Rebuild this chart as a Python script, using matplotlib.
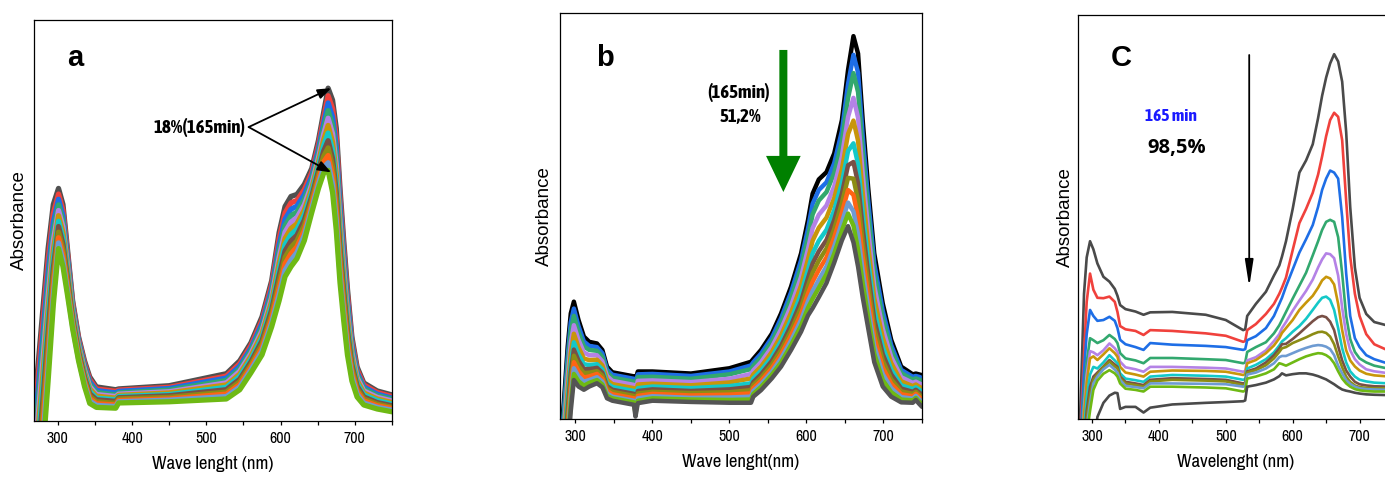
import numpy as np
import matplotlib
matplotlib.use('Agg')
import matplotlib.pyplot as plt
from matplotlib.patches import FancyArrow
from matplotlib.ticker import MultipleLocator

# ---------------------------------------------------------------- data
xticks = [300, 400, 500, 600, 700]
xtick_labels = ['300', '400', '500', '600', '700']

# Panel a: rows = wavelength, columns = 12 successive spectra (0 .. 165 min)
wl_a = [268, 274, 280, 287, 294, 301, 307, 313, 320, 328, 336, 343, 352, 378, 382,
        450, 527, 531, 545, 560, 575, 588, 598, 606, 614, 622, 632, 642, 651, 658,
        664, 670, 675, 680, 685, 690, 696, 703, 712, 730, 750]
spectra_a = [
    [3, 0, -3, -6, -9, -12, -15, -18, -21, -24, -27, -30],
    [15, 11.8, 8.6, 5.4, 2.2, -1, -4.2, -7.4, -10.6, -13.8, -17, -20],
    [28, 24.7, 21.5, 18.2, 14.9, 11.6, 8.4, 5.1, 1.8, -1.4, -4.7, -8],
    [43, 40, 37, 34, 31, 28, 25, 22, 19, 16, 13, 10],
    [54, 51.7, 49.5, 47.2, 44.9, 42.6, 40.4, 38.1, 35.8, 33.5, 31.3, 29],
    [58, 56.6, 55.3, 53.9, 52.5, 51.2, 49.8, 48.5, 47.1, 45.7, 44.4, 43],
    [54, 52.6, 51.2, 49.8, 48.4, 47, 45.5, 44.1, 42.7, 41.3, 39.9, 38.5],
    [43, 42, 40.9, 39.9, 38.8, 37.8, 36.7, 35.7, 34.6, 33.6, 32.5, 31.5],
    [30, 29.4, 28.7, 28.1, 27.5, 26.8, 26.2, 25.5, 24.9, 24.3, 23.6, 23],
    [21, 20.5, 19.9, 19.4, 18.8, 18.3, 17.7, 17.2, 16.6, 16.1, 15.5, 15],
    [15, 14.4, 13.8, 13.3, 12.7, 12.1, 11.5, 10.9, 10.3, 9.8, 9.2, 8.6],
    [11, 10.4, 9.8, 9.2, 8.6, 8, 7.4, 6.8, 6.2, 5.6, 5, 4.4],
    [8.5, 8, 7.6, 7.1, 6.6, 6.2, 5.7, 5.3, 4.8, 4.3, 3.9, 3.4],
    [7.8, 7.4, 7, 6.5, 6.1, 5.7, 5.3, 4.9, 4.4, 4, 3.6, 3.2],
    [8, 7.7, 7.4, 7, 6.7, 6.4, 6.1, 5.8, 5.5, 5.1, 4.8, 4.5],
    [8.8, 8.4, 8.1, 7.7, 7.3, 7, 6.6, 6.3, 5.9, 5.5, 5.2, 4.8],
    [11.8, 11.2, 10.7, 10.1, 9.5, 9, 8.4, 7.8, 7.2, 6.7, 6.1, 5.5],
    [12.5, 11.9, 11.3, 10.7, 10.1, 9.5, 9, 8.4, 7.8, 7.2, 6.6, 6],
    [15, 14.3, 13.7, 13, 12.4, 11.7, 11.1, 10.4, 9.8, 9.1, 8.5, 7.8],
    [19.5, 18.8, 18.1, 17.5, 16.8, 16.1, 15.4, 14.7, 14, 13.4, 12.7, 12],
    [26, 25.1, 24.3, 23.4, 22.5, 21.7, 20.8, 20, 19.1, 18.2, 17.4, 16.5],
    [35, 34, 32.9, 31.9, 30.8, 29.8, 28.7, 27.7, 26.6, 25.6, 24.5, 23.5],
    [47, 45.5, 43.9, 42.4, 40.8, 39.3, 37.7, 36.2, 34.6, 33.1, 31.5, 30],
    [53.5, 51.9, 50.3, 48.7, 47.1, 45.5, 44, 42.4, 40.8, 39.2, 37.6, 36],
    [56, 54.4, 52.8, 51.2, 49.6, 48, 46.5, 44.9, 43.3, 41.7, 40.1, 38.5],
    [56.5, 55, 53.6, 52.1, 50.7, 49.2, 47.8, 46.3, 44.9, 43.4, 42, 40.5],
    [59, 57.7, 56.5, 55.2, 53.9, 52.6, 51.4, 50.1, 48.8, 47.5, 46.3, 45],
    [63, 62, 61, 60, 59, 58, 57, 56, 55, 54, 53, 52],
    [70, 68.9, 67.8, 66.7, 65.6, 64.5, 63.5, 62.4, 61.3, 60.2, 59.1, 58],
    [77, 75.6, 74.2, 72.9, 71.5, 70.1, 68.7, 67.3, 66, 64.6, 63.2, 61.8],
    [83, 81.1, 79.3, 77.4, 75.5, 73.7, 71.8, 69.9, 68.1, 66.2, 64.4, 62.5],
    [80, 77.9, 75.8, 73.7, 71.6, 69.5, 67.5, 65.4, 63.3, 61.2, 59.1, 57],
    [73, 70.7, 68.4, 66, 63.7, 61.4, 59.1, 56.8, 54.5, 52.1, 49.8, 47.5],
    [58, 55.9, 53.7, 51.6, 49.5, 47.3, 45.2, 43, 40.9, 38.8, 36.6, 34.5],
    [45, 43.2, 41.4, 39.5, 37.7, 35.9, 34.1, 32.3, 30.5, 28.6, 26.8, 25],
    [33, 31.5, 30, 28.5, 27, 25.5, 24, 22.5, 21, 19.5, 18, 16.5],
    [21, 20, 19, 18, 17, 16, 15, 14, 13, 12, 11, 10],
    [13.5, 12.8, 12.1, 11.5, 10.8, 10.1, 9.4, 8.7, 8, 7.4, 6.7, 6],
    [9.5, 9, 8.5, 8, 7.5, 7, 6.5, 6, 5.5, 5, 4.5, 4],
    [7.5, 7.1, 6.7, 6.3, 5.9, 5.5, 5.1, 4.6, 4.2, 3.8, 3.4, 3],
    [6.5, 6.1, 5.7, 5.4, 5, 4.6, 4.2, 3.8, 3.4, 3.1, 2.7, 2.3],
]
colors_a = ['#505050', '#f0413c', '#1e6ee6', '#32a86e', '#b482e6', '#c8960a',
            '#14c8c8', '#785046', '#8c8c14', '#ff6414', '#6e9bd2', '#6eb914']

# Panel b: rows = wavelength, columns = 12 successive spectra
wl_b = [281, 285, 290, 294, 298, 304, 311, 318, 328, 335, 341, 348, 376, 378, 381,
        400, 450, 500, 528, 531, 541, 555, 567, 580, 593, 602, 608, 616, 626, 636,
        646, 654, 661, 667, 673, 680, 688, 699, 710, 723, 738, 742, 746, 750]
spectra_b = [
    [-5, -7.3, -9.5, -12.5, -15.3, -18, -20.3, -22.3, -24.3, -26.3, -28, -30],
    [4, 1.8, -0.3, -3.2, -5.8, -8.5, -10.6, -12.6, -14.5, -16.4, -18.1, -20],
    [17.8, 15.5, 13.2, 10.1, 7.2, 4.4, 2.1, 0, -2.1, -4.1, -5.9, -8],
    [26, 23.8, 21.7, 18.8, 16.2, 13.5, 11.4, 9.4, 7.5, 5.6, 3.9, 2],
    [28.9, 27.2, 25.4, 23.1, 21, 18.9, 17.1, 15.6, 14, 12.5, 11.1, 9.6],
    [24.4, 22.9, 21.4, 19.5, 17.7, 15.9, 14.4, 13.1, 11.8, 10.5, 9.3, 8],
    [20.3, 19.1, 17.9, 16.4, 14.9, 13.5, 12.3, 11.3, 10.2, 9.2, 8.2, 7.2],
    [19, 18, 17, 15.7, 14.5, 13.3, 12.3, 11.4, 10.5, 9.6, 8.9, 8],
    [18.6, 17.7, 16.8, 15.7, 14.6, 13.5, 12.6, 11.8, 11.1, 10.3, 9.6, 8.8],
    [17, 16.2, 15.3, 14.2, 13.2, 12.2, 11.4, 10.7, 9.9, 9.2, 8.5, 7.8],
    [12.9, 12.2, 11.5, 10.6, 9.7, 8.8, 8.1, 7.5, 6.9, 6.3, 5.7, 5.1],
    [11.5, 10.9, 10.2, 9.4, 8.6, 7.9, 7.2, 6.7, 6.1, 5.5, 5.1, 4.5],
    [10.5, 9.9, 9.2, 8.4, 7.6, 6.9, 6.2, 5.7, 5.1, 4.5, 4.1, 3.5],
    [9.6, 8.8, 8, 6.9, 5.9, 4.9, 4.1, 3.4, 2.7, 1.9, 1.3, 0.6],
    [11.7, 11, 10.3, 9.4, 8.5, 7.6, 6.9, 6.3, 5.7, 5.1, 4.5, 3.9],
    [11.7, 11.1, 10.4, 9.5, 8.7, 8, 7.3, 6.7, 6.2, 5.6, 5.1, 4.5],
    [11.2, 10.6, 9.9, 9.1, 8.3, 7.6, 6.9, 6.4, 5.8, 5.2, 4.8, 4.2],
    [12.5, 11.7, 11, 9.9, 9, 8.1, 7.3, 6.6, 6, 5.3, 4.7, 4],
    [14.1, 13.2, 12.3, 11.1, 10, 8.8, 7.9, 7.1, 6.3, 5.5, 4.8, 4],
    [14.8, 14, 13.1, 12, 11, 10, 9.1, 8.4, 7.6, 6.9, 6.2, 5.5],
    [17, 16.1, 15.2, 14, 12.9, 11.9, 11, 10.2, 9.4, 8.6, 7.9, 7.1],
    [21, 20, 19, 17.7, 16.5, 15.3, 14.3, 13.4, 12.5, 11.6, 10.9, 10],
    [26, 24.8, 23.6, 22.1, 20.6, 19.2, 18, 17, 15.9, 14.9, 13.9, 12.9],
    [32.6, 31.2, 29.8, 27.9, 26.2, 24.5, 23.1, 21.8, 20.6, 19.3, 18.2, 17],
    [40.8, 39.1, 37.3, 35, 32.9, 30.8, 29, 27.5, 25.9, 24.4, 23, 21.5],
    [49, 46.9, 44.8, 41.9, 39.4, 36.8, 34.7, 32.8, 30.9, 29, 27.4, 25.5],
    [55.5, 53, 50.4, 47, 43.9, 40.8, 38.3, 36, 33.8, 31.5, 29.6, 27.3],
    [59, 56.4, 53.8, 50.3, 47.1, 43.9, 41.3, 39, 36.7, 34.3, 32.3, 30],
    [60.8, 58.3, 55.9, 52.6, 49.6, 46.6, 44.1, 42, 39.8, 37.6, 35.7, 33.5],
    [65.4, 63, 60.6, 57.3, 54.4, 51.4, 49, 46.8, 44.7, 42.5, 40.7, 38.5],
    [73.6, 70.9, 68.3, 64.7, 61.5, 58.2, 55.5, 53.2, 50.8, 48.4, 46.4, 44],
    [86, 82.5, 79.1, 74.4, 70.2, 66, 62.5, 59.4, 56.4, 53.3, 50.6, 47.5],
    [94.3, 89.7, 85.2, 79.1, 73.5, 67.9, 63.3, 59.2, 55.2, 51.1, 47.6, 43.5],
    [90, 85.3, 80.5, 74.2, 68.5, 62.7, 58, 53.8, 49.6, 45.4, 41.7, 37.5],
    [73.6, 69.7, 65.8, 60.5, 55.7, 50.9, 47, 43.5, 40, 36.5, 33.5, 30],
    [57.2, 54.1, 51, 46.8, 43, 39.2, 36, 33.3, 30.5, 27.7, 25.3, 22.5],
    [40.8, 38.4, 36, 32.8, 29.8, 26.9, 24.5, 22.3, 20.2, 18, 16.1, 14],
    [28.5, 26.7, 24.8, 22.3, 20.1, 17.8, 16, 14.4, 12.7, 11.1, 9.6, 8],
    [19.5, 18.2, 17, 15.3, 13.8, 12.2, 11, 9.8, 8.7, 7.6, 6.6, 5.5],
    [12.9, 12.1, 11.3, 10.3, 9.3, 8.3, 7.5, 6.8, 6.1, 5.4, 4.8, 4.1],
    [11, 10.4, 9.7, 8.9, 8.1, 7.4, 6.7, 6.2, 5.6, 5, 4.6, 4],
    [11.2, 10.6, 10, 9.2, 8.5, 7.8, 7.2, 6.7, 6.2, 5.7, 5.2, 4.7],
    [11, 10.4, 9.7, 8.8, 8, 7.3, 6.6, 6, 5.5, 4.9, 4.4, 3.8],
    [10.8, 10.1, 9.4, 8.5, 7.6, 6.7, 6, 5.4, 4.8, 4.2, 3.6, 3],
]
colors_b = ['#000000', '#1e6ee6', '#32a86e', '#b482e6', '#c8960a', '#14c8c8',
            '#785046', '#8c8c14', '#ff6414', '#6e9bd2', '#6eb914', '#555555']

# Panel c: one list per spectrum
wl_c = [280, 284, 288, 292, 297, 302, 308, 317, 326, 334, 338, 342, 350, 365, 377,
        387, 420, 470, 500, 526, 529, 532, 545, 560, 572, 580, 584, 590, 600, 610,
        620, 630, 638, 644, 650, 656, 662, 668, 674, 680, 686, 693, 700, 710, 722, 745]
c_gray0 = [-10, 10, 31, 40, 44, 42, 38.5, 35.2, 34, 32.2, 30.5, 28.2, 27.2, 26.6, 25.8,
           26.4, 26.5, 25.8, 24.5, 22, 22.2, 25.5, 28.5, 31.5, 35.5, 38, 40.2, 44, 52, 61,
           64, 68, 74.5, 80, 84.5, 88, 90.3, 88.5, 83.5, 71, 52.5, 37.5, 30, 26, 24, 23]
c_red = [-15, 2, 16, 29, 36, 32, 30, 29.9, 30.3, 29, 26.5, 23, 22.2, 21.8, 20.8,
         22, 21.8, 21.2, 20.6, 19.1, 19.3, 22, 23.5, 26, 28.5, 31, 32.5, 35, 41.8, 48.5,
         52, 56, 60.5, 65, 70, 74, 75.8, 74.8, 69, 54, 40.2, 31, 25.5, 21, 18.5, 16.8]
c_blue = [-20, -2, 12, 21, 27, 25.5, 24.3, 24.5, 25.3, 24.3, 22.5, 19.6, 18.5, 17.8, 17.1,
          18.8, 18.4, 18.1, 17.8, 17.1, 17.3, 19.5, 20.5, 22.5, 25.5, 28.5, 30, 32.8, 37, 41.2,
          44.5, 48, 52.5, 56.7, 59.5, 61.5, 61, 59.5, 50, 36, 25.5, 20, 17.8, 15.8, 14.8, 13.6]
c_green = [-25, -6, 6, 14, 20, 19.5, 18.8, 19.5, 20.8, 19.8, 18.8, 16.3, 15, 14.5, 13.8,
           15.1, 15.1, 14.8, 14.6, 13.8, 14, 16.6, 17.8, 19, 21.2, 23.2, 24.5, 26.5, 29.8, 33,
           36.2, 40.5, 44, 46.8, 48.8, 49.3, 48.8, 45, 36, 25.5, 19.8, 16.6, 15, 14, 13.2, 12.4]
c_purple = [-28, -10, 3, 11, 16.8, 16.5, 15.8, 17, 18.7, 17.5, 16.6, 14.2, 12.8, 12.3, 11.7,
            12.9, 12.9, 12.7, 12.5, 11.7, 11.9, 14.5, 15.3, 17, 19.3, 21, 22.5, 24, 26.8, 29.3,
            31.7, 34.5, 37.5, 39.5, 41, 40.8, 39.8, 35.5, 27.5, 21, 17, 14.8, 13.5, 12.3, 11.8, 11.3]
c_gold = [-30, -12, 1, 9, 15, 15.5, 14.6, 16, 17.5, 16.3, 15.4, 12.9, 11.5, 11, 10.5,
          11.7, 12, 11.9, 11.7, 10.9, 11.1, 13.8, 14.6, 16.3, 18.2, 20, 21.3, 22.5, 24.5, 27,
          28.8, 30.5, 32.5, 34.3, 35.2, 34.8, 33.3, 28.5, 22, 17, 14.5, 13, 12, 11.2, 10.8, 10.5]
c_cyan = [-32, -15, -3, 5, 11, 12.9, 12.5, 14, 15.8, 14.5, 13.8, 11.3, 10, 9.6, 9.2,
          10.5, 10.9, 10.7, 10.5, 9.7, 9.9, 12.5, 13.4, 14.8, 16.5, 18.2, 19.2, 20, 21.6, 23,
          24.8, 27, 28.8, 30, 30.3, 29.5, 27, 22.5, 17.5, 14, 11.8, 10.5, 9.7, 9.3, 9, 8.8]
c_brown = [-34, -18, -6, 2, 8, 10.5, 11.5, 13, 14.6, 13.5, 12.9, 10.5, 9.2, 8.8, 8.4,
           9.7, 10.1, 9.9, 9.7, 8.8, 9, 11.8, 12.5, 14, 15.8, 17.5, 18.5, 18.6, 19.8, 21.2,
           22.7, 24.2, 25.2, 25.5, 25.2, 24.1, 22, 18, 14.5, 12, 10.5, 9.2, 8.6, 8.3, 8.1, 8]
c_olive = [-36, -20, -8, 0, 6, 9.7, 11, 12.8, 14.2, 13, 12.5, 10.1, 8.8, 8.4, 8,
           9.3, 9.7, 9.5, 9.3, 8.4, 8.6, 11.5, 12.1, 13.3, 15, 16.6, 17.5, 17.8, 18.8, 19.5,
           20.2, 21, 21.5, 21.6, 21.3, 20.4, 18.5, 15.5, 12.8, 10.5, 9.2, 8.3, 7.9, 7.7, 7.6, 7.6]
c_steel = [-38, -22, -10, -2, 4, 8.8, 10.5, 12.3, 13.4, 12.2, 11.5, 9.7, 8.2, 7.9, 7.6,
           8.8, 8.8, 8.7, 8.6, 8, 8.2, 11, 11.5, 12.5, 13.8, 15.3, 15.6, 15.6, 16.3, 17,
           17.6, 18.1, 18.3, 18.2, 17.9, 17.3, 15.8, 13.2, 11.3, 9.6, 8.7, 8, 7.6, 7.4, 7.3, 7.2]
c_lime = [-40, -25, -13, -4, 2, 7.2, 9.5, 11.2, 12.1, 11.3, 10.5, 8.8, 7.5, 7.2, 6.8,
          8, 8, 7.8, 7.6, 6.8, 7, 10, 10.5, 11.3, 12.3, 13.8, 13.6, 13.2, 14, 14.8,
          15.5, 16, 16.3, 16.2, 15.8, 15.1, 13.8, 11.8, 10, 8.8, 8, 7.4, 7.1, 6.9, 6.8, 6.8]
c_gray1 = [-60, -50, -40, -30, -20, -8, 0.5, 4, 5.8, 6.5, 6.4, 2.5, 3, 3, 1.6,
           2.8, 3.6, 4, 4.2, 4.4, 4.6, 8, 8.4, 9, 9.8, 10.6, 11.3, 10.8, 11.1, 11.3,
           11.3, 11, 10.6, 10.2, 9.8, 9.2, 8.6, 7.9, 7.3, 7, 6.8, 6.5, 6.3, 6.1, 6, 5.9]
spectra_c = [c_gray0, c_red, c_blue, c_green, c_purple, c_gold, c_cyan, c_brown,
             c_olive, c_steel, c_lime, c_gray1]
colors_c = ['#4a4a4a', '#f0413c', '#1e6ee6', '#32a86e', '#b482e6', '#c8960a',
            '#14c8c8', '#785046', '#8c8c14', '#6e9bd2', '#6eb914', '#4a4a4a']

# ---------------------------------------------------------------- style
NARROW = ['Archivo Narrow', 'Roboto Condensed', 'DejaVu Sans']
NARROW_BOLD = ['Asap Condensed', 'Archivo Narrow', 'DejaVu Sans']
ARIAL = ['Liberation Sans', 'DejaVu Sans']

W, H = 1385, 482
fig = plt.figure(figsize=(W / 100, H / 100), dpi=100)


def px_box(left, top, right, bottom):
    return [left / W, 1 - bottom / H, (right - left) / W, (bottom - top) / H]


def style(ax, xlim, xlabel, ylab_x):
    ax.set_xlim(*xlim)
    ax.set_ylim(0, 100)
    ax.set_yticks([])
    ax.set_xticks(xticks)
    ax.set_xticklabels(xtick_labels, fontfamily=NARROW, fontsize=11.5)
    ax.xaxis.set_minor_locator(MultipleLocator(50))
    ax.tick_params(axis='x', which='both', direction='out', length=3,
                   width=0.9, pad=4.5, top=False)
    ax.set_xlabel(xlabel, fontsize=13.5, family=NARROW, labelpad=7)
    ax.set_ylabel('Absorbance', fontsize=13.5, family=ARIAL)
    ax.yaxis.set_label_coords(ylab_x, 0.5)
    for s in ax.spines.values():
        s.set_linewidth(0.9)


ax_a = fig.add_axes(px_box(34, 20, 392, 421))
ax_b = fig.add_axes(px_box(560, 13, 922, 419))
ax_c = fig.add_axes(px_box(1078, 15, 1393, 419))

# ---- panel a
arr_a = np.array(spectra_a)
for i, col in enumerate(colors_a):
    ax_a.plot(wl_a, arr_a[:, i], color=col, lw=3.8, solid_joinstyle='round',
              solid_capstyle='round')
style(ax_a, (268, 750), 'Wave lenght (nm)', -0.017)
ax_a.text(0.115, 0.905, 'a', transform=ax_a.transAxes, fontsize=21,
          fontweight='bold', family=ARIAL, ha='center', va='center')
ax_a.text(553, 73.3, '18%(165min)', fontsize=13.5, fontweight='bold',
          family=NARROW_BOLD, ha='right', va='center')
for tip in [(668, 83), (668, 62)]:
    ax_a.annotate('', xy=tip, xytext=(557, 73.3),
                  arrowprops=dict(arrowstyle='-|>,head_length=0.8,head_width=0.3',
                                  color='black', lw=1.3, shrinkA=0, shrinkB=0))

# ---- panel b
arr_b = np.array(spectra_b)
for i, col in enumerate(colors_b):
    ax_b.plot(wl_b, arr_b[:, i], color=col, lw=3.2, solid_joinstyle='round',
              solid_capstyle='round')
style(ax_b, (280, 750), 'Wave lenght(nm)', -0.019)
ax_b.text(0.124, 0.889, 'b', transform=ax_b.transAxes, fontsize=21,
          fontweight='bold', family=ARIAL, ha='center', va='center')
ax_b.text(512, 80.5, '(165min)', fontsize=13.5, fontweight='bold',
          family=NARROW_BOLD, ha='center', va='center')
ax_b.text(514, 74.4, '51,2%', fontsize=13.5, fontweight='bold',
          family=NARROW_BOLD, ha='center', va='center')
ax_b.add_patch(FancyArrow(570, 90.9, 0, -35, width=10.4, head_width=45,
                          head_length=8.9, length_includes_head=True,
                          color='#008000', lw=0))

# ---- panel c
for curve, col in zip(spectra_c, colors_c):
    ax_c.plot(wl_c, curve, color=col, lw=1.9, solid_joinstyle='round')
style(ax_c, (279, 750), 'Wavelenght (nm)', -0.013)
ax_c.text(0.136, 0.894, 'C', transform=ax_c.transAxes, fontsize=21,
          fontweight='bold', family=ARIAL, ha='center', va='center')
ax_c.text(418, 75.1, '165 min', fontsize=12.5, fontweight='bold', color='#1a1aff',
          family=NARROW_BOLD, ha='center', va='center')
ax_c.text(427, 67.1, '98,5%', fontsize=14.5, fontweight='bold', color='black',
          family=['Open Sans', 'DejaVu Sans'], ha='center', va='center')
ax_c.annotate('', xy=(535, 32.7), xytext=(535, 90.1),
              arrowprops=dict(arrowstyle='-|>,head_length=1.6,head_width=0.25',
                              color='black', lw=1.3, shrinkA=0, shrinkB=0))

fig.savefig('out.png', dpi=100)
